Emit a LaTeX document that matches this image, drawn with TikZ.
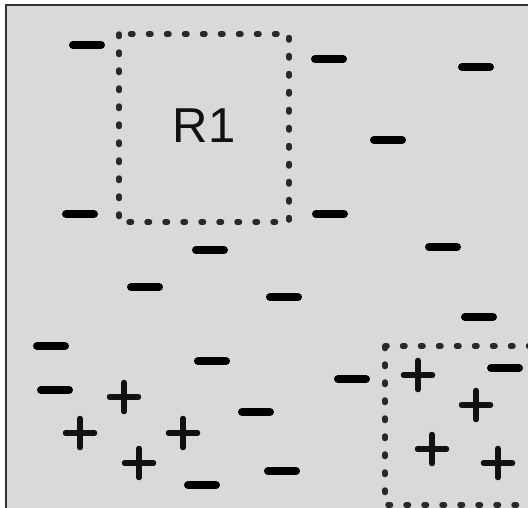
\documentclass[tikz,border=0pt]{standalone}
\usepackage{fontspec}
\setmainfont{Liberation Sans}
\definecolor{bggray}{HTML}{D9D9D9}
\definecolor{framegray}{HTML}{333333}
\definecolor{ink}{HTML}{111111}
\tikzset{
  minussign/.style={line width=8pt, line cap=round, draw=black},
  plussign/.style={line width=5.5pt, line cap=round, draw=ink},
  regionbox/.style={line width=5.5pt, line cap=round, draw=ink!90, dash pattern=on 2.5pt off 15.5pt},
}
\begin{document}
\begin{tikzpicture}[x=1pt,y=-1pt]
\useasboundingbox (0,0) rectangle (528,507);
\clip (0,0) rectangle (528,507);
\fill[white] (0,0) rectangle (528,507);
\draw[framegray, line width=2.5pt, fill=bggray] (6,5) rectangle (560,540);
% minus signs
\foreach \x/\y in {87/45, 329/59, 476/67, 388/140, 80/214, 330/214, 210/250, 443/247,
  145/287, 284/297, 479/317, 51/346, 212/361, 55/390, 256/412, 282/471, 202/485, 352/379, 505/368}
  \draw[minussign] (\x-14,\y) -- (\x+14,\y);
% plus signs
\foreach \x/\y in {124/397, 80/433, 183/433, 139/463, 418/375, 476/405, 432/449, 498/463}
  {\draw[plussign] (\x-14.5,\y) -- (\x+14.5,\y);
   \draw[plussign] (\x,\y-14.5) -- (\x,\y+14.5);}
% regions
\draw[regionbox] (119,34) rectangle (289,222);
\draw[regionbox] (385,346) rectangle (560,505);
\node[text=ink, font=\fontsize{49}{49}\selectfont, inner sep=0pt] (r1) at (204,126) {R1};
\end{tikzpicture}
\end{document}
